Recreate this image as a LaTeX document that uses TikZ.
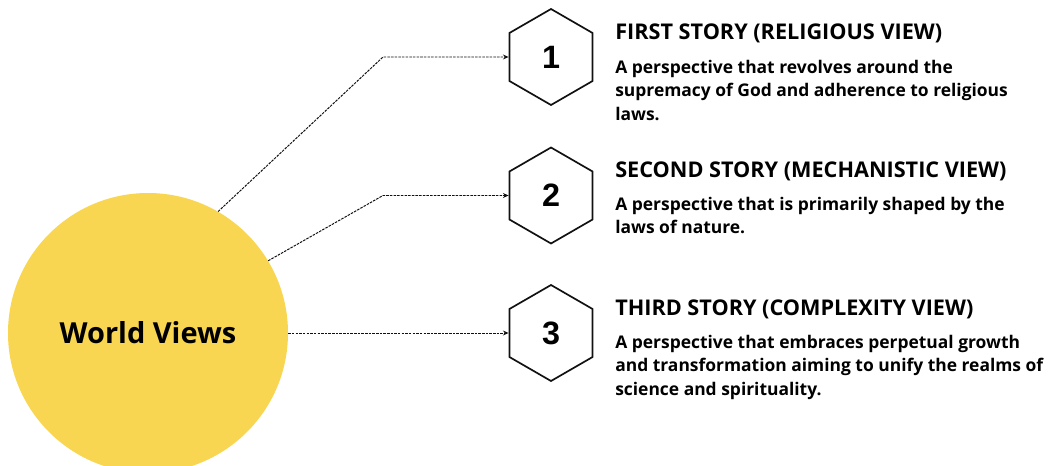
\documentclass[tikz,border=0pt]{standalone}
\usepackage{fontspec}
\setmainfont{Open Sans}
\newfontfamily\numfont{Liberation Sans}
\usetikzlibrary{shapes.geometric,arrows.meta}
\definecolor{sun}{RGB}{248,214,82}
\definecolor{ink}{RGB}{17,17,17}

\begin{document}
\begin{tikzpicture}[
	hexa/.style={draw=ink, line width=1.2pt, regular polygon, regular polygon sides=6,
		regular polygon rotate=30, minimum size=2.4cm, inner sep=0pt,
		font=\numfont\bfseries\fontsize{23}{24}\selectfont},
	link/.style={draw=ink, line width=0.7pt, dash pattern=on 1.8pt off 0.8pt,
		-{Stealth[length=4pt,width=3.5pt]}},
	title/.style={anchor=base west, inner sep=0pt, font=\bfseries\fontsize{15.4}{18}\selectfont},
	desc/.style={anchor=base west, inner sep=0pt, align=left,
		font=\bfseries\fontsize{12.4}{16.7}\selectfont}
	]
\clip (0,0) rectangle (26.25,11.625);

\node [circle, fill=sun, minimum size=7cm, inner sep=0pt,
	font=\bfseries\fontsize{20.6}{24}\selectfont] (wv) at (3.7,3.3) {World Views};

\node [hexa] (h1) at (13.775,10.2) {1};
\node [hexa] (h2) at (13.775,6.7375) {2};
\node [hexa] (h3) at (13.775,3.3) {3};

\coordinate (bend) at (9.575,0);
\draw [link] (wv.60) -- (bend |- h1.west) -- (h1.west);
\draw [link] (wv.31) -- (bend |- h2.west) -- (h2.west);
\draw [link] (wv.east |- h3.west) -- (h3.west);

% titles at the first baseline, texts at their last one
\node [title] (t1) at (15.375,10.625) {FIRST STORY (RELIGIOUS VIEW)};
\node [desc] (d1) at (15.375,8.625) {A perspective that revolves around the\\
	supremacy of God and adherence to religious\\ laws.};

\node [title] (t2) at (15.375,7.2) {SECOND STORY (MECHANISTIC VIEW)};
\node [desc] (d2) at (15.375,5.7875) {A perspective that is primarily shaped by the\\
	laws of nature.};

\node [title] (t3) at (15.375,3.75) {THIRD STORY (COMPLEXITY VIEW)};
\node [desc] (d3) at (15.375,1.75) {A perspective that embraces perpetual growth\\
	and transformation aiming to unify the realms of\\ science and spirituality.};

\end{tikzpicture}
\end{document}
